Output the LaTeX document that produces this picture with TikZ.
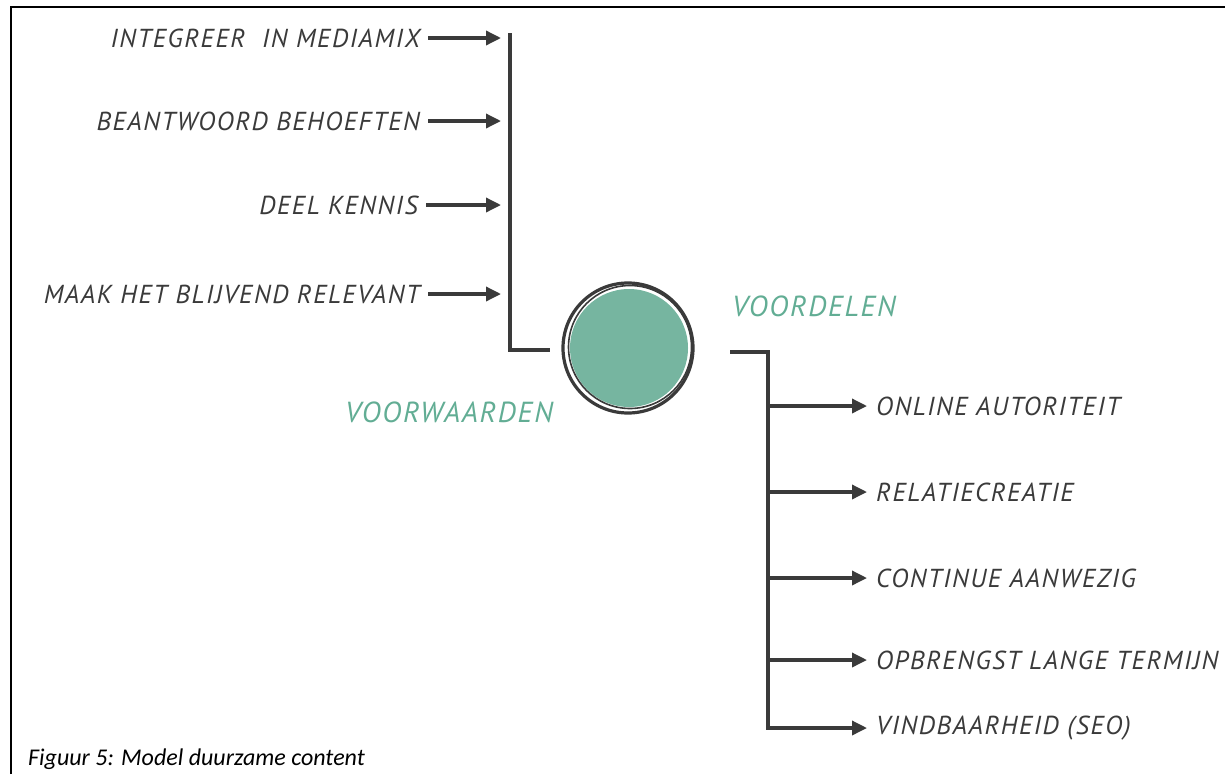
\documentclass[tikz,border=0pt]{standalone}
\usepackage{fontspec}
\setmainfont{Carlito}
\newfontfamily\sketchfont[LetterSpace=6]{PT Sans}
\usepackage{tikz}
\usetikzlibrary{arrows.meta}
\usetikzlibrary{positioning}

\definecolor{sketchgray}{HTML}{3A3A3A}
\definecolor{contentgreen}{HTML}{76B5A0}
\definecolor{titlegreen}{HTML}{62AD94}

\tikzset{
  lbl/.style={font=\sketchfont\itshape\fontsize{26}{26}\selectfont, text=sketchgray, inner sep=0pt},
  headlbl/.style={font=\sketchfont\itshape\fontsize{29}{29}\selectfont, text=titlegreen, inner sep=0pt},
  bar/.style={draw=sketchgray, line width=3.6pt},
  arr/.style={draw=sketchgray, line width=3.4pt, -{Triangle[length=15pt,width=14pt]}},
  ring/.style={draw=sketchgray}
}

\begin{document}
\begin{tikzpicture}[x=1pt,y=-1pt]
    \useasboundingbox (0,0) rectangle (1225,774);
    % frame
    \draw[line width=2pt] (11,774) -- (11,7) -- (1225,7);
    % core
    \node[circle, fill=contentgreen, minimum size=118pt, inner sep=0pt] (core) at (629,348) {};
    \draw[ring, line width=3.2pt] (628,348) circle (65);
    \draw[ring, line width=1.6pt] (630,347) circle (61.5);
    \node[headlbl] (cond) at (449,412) {VOORWAARDEN};
    \node[headlbl] (gain) at (814,306) {VOORDELEN};
    % conditions
    \node[lbl, anchor=east] (mix) at (420,38) {INTEGREER\ \ IN MEDIAMIX};
    \node[lbl, anchor=east] (need) at (420,121) {BEANTWOORD BEHOEFTEN};
    \node[lbl, anchor=east] (know) at (418,205) {DEEL KENNIS};
    \node[lbl, anchor=east] (keep) at (420,294) {MAAK HET BLIJVEND RELEVANT};
    \coordinate (ltop) at (510,33);
    \coordinate (lbot) at (510,350);
    \coordinate (lend) at (550,350);
    \draw[bar] (ltop) -- (lbot) -- (lend);
    \foreach \n in {mix,need,know,keep}
    \draw[arr, shorten >=9pt] ([xshift=8pt]\n.east) -- (\n.east -| ltop);
    % benefits
    \coordinate (rstart) at (730,352);
    \coordinate (rtop) at (768,352);
    \coordinate (rbot) at (768,730);
    \draw[bar] (rstart) -- (rtop) -- (rbot);
    \node[lbl, anchor=west] (auth) at (876,406) {ONLINE AUTORITEIT};
    \node[lbl, anchor=west] (rel) at (876,492) {RELATIECREATIE};
    \node[lbl, anchor=west] (cont) at (876,578) {CONTINUE AANWEZIG};
    \node[lbl, anchor=west] (yield) at (876,660) {OPBRENGST LANGE TERMIJN};
    \node[lbl, anchor=west] (seo) at (876,728) {VINDBAARHEID (SEO)};
    \foreach \n in {auth,rel,cont,yield,seo}
    \draw[arr, shorten >=9pt] (\n.west -| rtop) -- (\n.west);
    % caption
    \node[anchor=base west, inner sep=0pt, font=\itshape\fontsize{24}{24}\selectfont] (caption) at (28,765) {Figuur 5: Model duurzame content};
\end{tikzpicture}
\end{document}
